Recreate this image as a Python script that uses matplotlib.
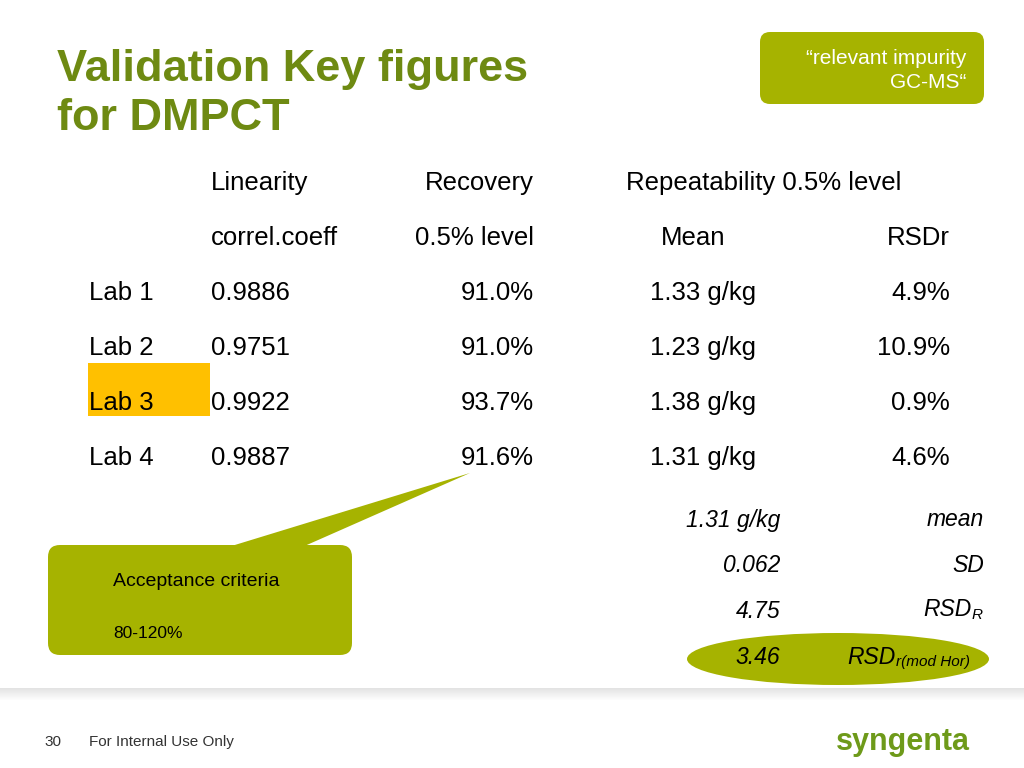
import matplotlib
matplotlib.use("Agg")
import matplotlib.pyplot as plt
from matplotlib.patches import FancyBboxPatch, Rectangle, Ellipse, Polygon

plt.rcParams["font.family"] = "sans-serif"
plt.rcParams["font.sans-serif"] = ["Liberation Sans", "Arial", "DejaVu Sans"]

labs = ["Lab 1", "Lab 2", "Lab 3", "Lab 4"]
linearity = ["0.9886", "0.9751", "0.9922", "0.9887"]
recovery = ["91.0%", "91.0%", "93.7%", "91.6%"]
means = ["1.33 g/kg", "1.23 g/kg", "1.38 g/kg", "1.31 g/kg"]
rsdr = ["4.9%", "10.9%", "0.9%", "4.6%"]
summary_vals = ["1.31 g/kg", "0.062", "4.75", "3.46"]

fig = plt.figure(figsize=(10.24, 7.68), dpi=100)
ax = fig.add_axes([0, 0, 1, 1])
ax.set_xlim(0, 1024); ax.set_ylim(768, 0); ax.axis("off")

green = "#a6b300"
title_c = "#6e8a12"

ax.text(57, 70, "Validation Key figures", fontsize=32.5, fontweight="bold", color=title_c, va="center")
ax.text(57, 118, "for DMPCT", fontsize=32.5, fontweight="bold", color=title_c, va="center")

ax.add_patch(FancyBboxPatch((760, 32), 224, 72, boxstyle="round,pad=0,rounding_size=10",
                            fc=green, ec="none"))
ax.text(966, 59, "“relevant impurity", fontsize=15, color="white", ha="right", va="center")
ax.text(966, 83, "GC-MS“", fontsize=15, color="white", ha="right", va="center")

fs = 18.5
ax.text(211, 183, "Linearity", fontsize=fs, va="center")
ax.text(534, 183, "Recovery", fontsize=fs, va="center", ha="right")
ax.text(626, 183, "Repeatability 0.5% level", fontsize=fs, va="center")
ax.text(211, 238, "correl.coeff", fontsize=fs, va="center")
ax.text(534, 238, "0.5% level", fontsize=fs, va="center", ha="right")
ax.text(661, 238, "Mean", fontsize=fs, va="center")
ax.text(950, 238, "RSDr", fontsize=fs, va="center", ha="right")

ax.add_patch(Rectangle((88, 363), 122, 53, fc="#ffc000", ec="none"))
for i in range(4):
    y = 293 + 55 * i
    ax.text(89, y, labs[i], fontsize=fs, va="center")
    ax.text(211, y, linearity[i], fontsize=fs, va="center")
    ax.text(534, y, recovery[i], fontsize=fs, va="center", ha="right")
    ax.text(650, y, means[i], fontsize=fs, va="center")
    ax.text(950, y, rsdr[i], fontsize=fs, va="center", ha="right")

ax.add_patch(Polygon([[225, 548], [470, 473], [300, 548]], fc=green, ec="none"))
ax.add_patch(FancyBboxPatch((48, 545), 304, 110, boxstyle="round,pad=0,rounding_size=12",
                            fc=green, ec="none"))
ax.text(113, 582, "Acceptance criteria", fontsize=14, va="center")
ax.text(113, 634, "80-120%", fontsize=12.5, va="center")

ax.add_patch(Ellipse((838, 659), 302, 52, fc=green, ec="none"))
sfs = 16.5
ys = [520, 566, 612, 658]
for v, y in zip(summary_vals, ys):
    ax.text(780, y, v, fontsize=sfs, style="italic", va="center", ha="right")
ax.text(984, 520, "mean", fontsize=sfs, style="italic", va="center", ha="right")
ax.text(984, 566, "SD", fontsize=sfs, style="italic", va="center", ha="right")
ax.text(972, 610, "RSD", fontsize=sfs, style="italic", va="center", ha="right")
ax.text(972, 615, "R", fontsize=11, style="italic", va="center", ha="left")
ax.text(896, 657, "RSD", fontsize=sfs, style="italic", va="center", ha="right")
ax.text(896, 662, "r(mod Hor)", fontsize=11, style="italic", va="center", ha="left")

for k in range(12):
    ax.add_patch(Rectangle((0, 688 + k), 1024, 1, fc="#c8c8c8", ec="none", alpha=0.5 * (1 - k / 12)))
ax.text(44, 742, "30", fontsize=11, color="#333333", va="center")
ax.text(89, 742, "For Internal Use Only", fontsize=11, color="#333333", va="center")
ax.text(970, 742, "syngenta", fontsize=22, fontweight="bold", color="#6e9a1a",
        va="center", ha="right")

fig.savefig("out.png", dpi=100)
